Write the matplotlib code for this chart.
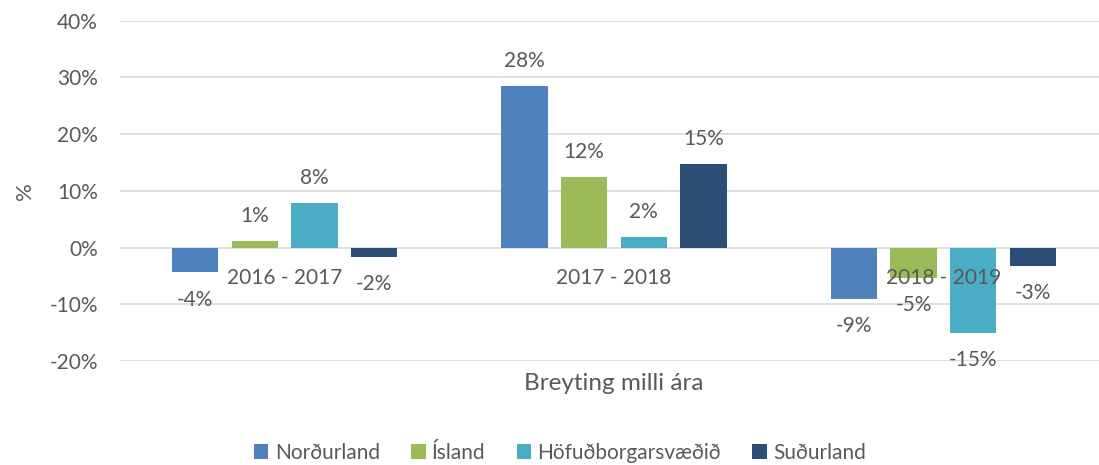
import matplotlib
matplotlib.use('Agg')
import matplotlib.pyplot as plt
from matplotlib.patches import Patch
import numpy as np

# Gögn
periods = ['2016 - 2017', '2017 - 2018', '2018 - 2019']
regions = ['Norðurland', 'Ísland', 'Höfuðborgarsvæðið', 'Suðurland']
nordurland = [-4.3, 28.4, -9.0]
island = [1.2, 12.4, -5.3]
hofudborg = [7.9, 1.9, -15.0]
sudurland = [-1.6, 14.8, -3.2]
yticks = [-20, -10, 0, 10, 20, 30, 40]

series = [nordurland, island, hofudborg, sudurland]
colors = ['#4F81BD', '#9BBB59', '#4BACC6', '#2C4D75']
text_col = '#595959'
font = ['Lato', 'DejaVu Sans']
fs = 15

fig = plt.figure(figsize=(10.99, 4.65), dpi=100)
ax = fig.add_axes([120 / 1099, 104 / 465, 988 / 1099, 340.3 / 465])

x = np.arange(len(periods))
step = 0.181
width = 0.141
for i, (vals, col) in enumerate(zip(series, colors)):
    pos = x + (i - 1.5) * step
    ax.bar(pos, vals, width=width, color=col, zorder=2)
    for p, v in zip(pos, vals):
        off = 18 if v >= 0 else -20
        ax.annotate(f"{v:.0f}%", (p, v), xytext=(0, off), textcoords='offset points',
                    ha='center', va='center', fontsize=fs, color=text_col,
                    family=font, zorder=5)

# Flokkamerki rétt neðan við núll-línu
for xi, lab in zip(x, periods):
    ax.annotate(lab, (xi, 0), xytext=(0, -22), textcoords='offset points',
                ha='center', va='center', fontsize=fs, color=text_col,
                family=font, zorder=6)

ax.set_xlim(-0.5, 2.5)
ax.set_ylim(-20, 40)
ax.set_yticks(yticks)
ax.set_yticklabels([f"{t}%" for t in yticks], family=font, fontsize=fs, color=text_col)
ax.tick_params(axis='y', length=0, pad=16)
ax.set_xticks([])
ax.set_axisbelow(True)
ax.yaxis.grid(True, color='#D9D9D9', linewidth=1.2)
for s in ax.spines.values():
    s.set_visible(False)

fig.text(25 / 1099, 1 - 191 / 465, '%', rotation=90, ha='center', va='center',
         fontsize=16, color=text_col, family=font)
fig.text(614 / 1099, 1 - 383 / 465, 'Breyting milli ára', ha='center', va='center',
         fontsize=17.5, color=text_col, family=font)

handles = [Patch(facecolor=c, edgecolor='none') for c in colors]
leg = fig.legend(handles, regions, loc='center', bbox_to_anchor=(560 / 1099, 1 - 453 / 465),
                 ncol=4, frameon=False, handlelength=0.7, handleheight=0.7,
                 handletextpad=0.3, columnspacing=1.5,
                 prop={'family': font, 'size': 15})
for t in leg.get_texts():
    t.set_color(text_col)

fig.savefig('out.png', dpi=100)
